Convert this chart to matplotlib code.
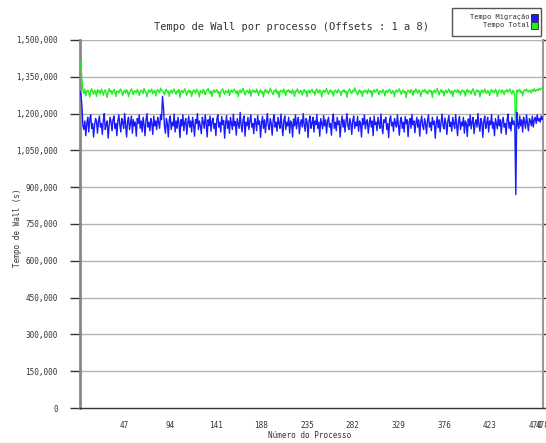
import numpy as np
import matplotlib.pyplot as plt
from matplotlib.patches import Rectangle
from matplotlib.ticker import FuncFormatter

# tempo total por processo (milhares de segundos), processos 1..478
tempo_total = [
    1410, 1395, 1340, 1295, 1282, 1300, 1272, 1290, 1296, 1285, 1268, 1292, 1301, 1288, 1279, 1295, 1290, 1270, 1298, 1287,
    1293, 1280, 1300, 1291, 1275, 1289, 1297, 1284, 1266, 1290, 1302, 1288, 1294, 1279, 1291, 1299, 1286, 1270, 1293, 1290,
    1284, 1296, 1300, 1288, 1273, 1291, 1295, 1283, 1298, 1290, 1269, 1287, 1293, 1301, 1289, 1277, 1294, 1290, 1285, 1299,
    1291, 1274, 1288, 1296, 1290, 1282, 1303, 1292, 1287, 1268, 1290, 1297, 1286, 1293, 1300, 1281, 1289, 1295, 1272, 1290,
    1298, 1290, 1285, 1304, 1295, 1292, 1288, 1276, 1294, 1299, 1287, 1292, 1270, 1289, 1296, 1283, 1291, 1300, 1288, 1279,
    1293, 1287, 1298, 1266, 1290, 1295, 1284, 1292, 1301, 1289, 1275, 1290, 1296, 1285, 1293, 1270, 1288, 1297, 1291, 1283,
    1300, 1292, 1287, 1268, 1294, 1290, 1283, 1299, 1291, 1277, 1289, 1296, 1302, 1288, 1281, 1293, 1270, 1290, 1297, 1286,
    1292, 1298, 1284, 1290, 1267, 1289, 1295, 1301, 1288, 1279, 1293, 1290, 1285, 1298, 1273, 1291, 1296, 1287, 1293, 1300,
    1289, 1282, 1294, 1269, 1290, 1297, 1285, 1292, 1303, 1291, 1276, 1288, 1295, 1290, 1283, 1299, 1271, 1290, 1296, 1288,
    1293, 1286, 1300, 1289, 1274, 1292, 1297, 1284, 1290, 1268, 1291, 1298, 1287, 1293, 1281, 1290, 1304, 1292, 1285, 1277,
    1294, 1290, 1299, 1283, 1291, 1266, 1289, 1296, 1292, 1285, 1300, 1288, 1273, 1294, 1290, 1297, 1286, 1292, 1280, 1298,
    1289, 1270, 1293, 1290, 1301, 1287, 1283, 1295, 1291, 1276, 1290, 1298, 1288, 1293, 1269, 1291, 1296, 1284, 1292, 1299,
    1287, 1290, 1275, 1294, 1300, 1289, 1283, 1297, 1291, 1268, 1290, 1295, 1286, 1293, 1302, 1288, 1279, 1292, 1297, 1285,
    1291, 1271, 1289, 1296, 1290, 1284, 1299, 1292, 1287, 1274, 1293, 1290, 1298, 1286, 1291, 1267, 1289, 1295, 1300, 1288,
    1282, 1294, 1290, 1305, 1293, 1287, 1276, 1291, 1297, 1285, 1292, 1270, 1290, 1296, 1288, 1293, 1281, 1299, 1291, 1286,
    1294, 1268, 1290, 1297, 1287, 1292, 1300, 1289, 1277, 1293, 1290, 1284, 1298, 1291, 1272, 1289, 1295, 1286, 1292, 1299,
    1288, 1281, 1294, 1290, 1269, 1291, 1296, 1287, 1293, 1301, 1290, 1278, 1292, 1297, 1285, 1290, 1266, 1289, 1295, 1292,
    1284, 1298, 1290, 1274, 1293, 1288, 1300, 1291, 1283, 1296, 1290, 1270, 1287, 1294, 1291, 1299, 1286, 1292, 1279, 1290,
    1297, 1288, 1293, 1267, 1290, 1296, 1285, 1292, 1302, 1289, 1276, 1291, 1298, 1287, 1293, 1272, 1290, 1295, 1284, 1291,
    1300, 1290, 1282, 1294, 1269, 1289, 1296, 1291, 1287, 1298, 1285, 1293, 1277, 1290, 1297, 1288, 1292, 1271, 1290, 1299,
    1286, 1293, 1290, 1280, 1295, 1301, 1288, 1274, 1292, 1297, 1289, 1293, 1268, 1290, 1296, 1285, 1291, 1300, 1287, 1282,
    1294, 1290, 1273, 1291, 1298, 1288, 1293, 1285, 1299, 1290, 1270, 1289, 1296, 1292, 1284, 1297, 1290, 1277, 1293, 1291,
    1298, 1287, 1292, 1300, 1289, 1279, 1294, 1290, 1275, 1000, 1296, 1288, 1293, 1299, 1286, 1291, 1272, 1290, 1297, 1292,
    1300, 1291, 1288, 1296, 1293, 1284, 1298, 1292, 1301, 1290, 1295, 1299, 1293, 1302, 1297, 1300, 1305, 1303,
]

# tempo de migracao por processo (milhares de segundos)
tempo_migracao = [
    1290, 1275, 1230, 1150, 1135, 1170, 1110, 1160, 1185, 1125, 1175, 1195, 1140, 1160, 1105, 1150, 1180, 1170, 1120, 1165,
    1190, 1145, 1160, 1115, 1175, 1200, 1135, 1155, 1170, 1100, 1150, 1185, 1165, 1130, 1175, 1190, 1140, 1160, 1110, 1170,
    1195, 1155, 1125, 1180, 1165, 1140, 1200, 1150, 1105, 1170, 1185, 1135, 1160, 1190, 1120, 1175, 1150, 1165, 1108, 1180,
    1160, 1195, 1140, 1170, 1125, 1185, 1155, 1110, 1175, 1200, 1145, 1165, 1130, 1180, 1160, 1115, 1190, 1150, 1170, 1135,
    1185, 1165, 1140, 1195, 1175, 1270, 1225, 1150, 1120, 1180, 1160, 1105, 1175, 1190, 1135, 1165, 1150, 1198, 1125, 1170,
    1140, 1185, 1160, 1102, 1175, 1150, 1195, 1130, 1165, 1180, 1115, 1160, 1190, 1145, 1170, 1125, 1185, 1155, 1108, 1175,
    1160, 1200, 1135, 1170, 1150, 1118, 1185, 1165, 1140, 1195, 1160, 1105, 1175, 1150, 1190, 1128, 1168, 1182, 1140, 1160,
    1110, 1178, 1195, 1145, 1165, 1125, 1188, 1155, 1172, 1100, 1160, 1192, 1140, 1170, 1120, 1185, 1160, 1135, 1198, 1150,
    1168, 1112, 1180, 1160, 1140, 1205, 1155, 1125, 1175, 1190, 1108, 1165, 1150, 1185, 1135, 1170, 1195, 1145, 1160, 1118,
    1180, 1165, 1130, 1192, 1155, 1170, 1103, 1160, 1188, 1140, 1175, 1122, 1165, 1200, 1150, 1135, 1180, 1160, 1112, 1175,
    1195, 1145, 1165, 1128, 1185, 1160, 1140, 1198, 1155, 1110, 1172, 1190, 1135, 1165, 1150, 1185, 1120, 1170, 1160, 1105,
    1178, 1150, 1195, 1138, 1165, 1185, 1118, 1160, 1175, 1145, 1200, 1155, 1128, 1180, 1165, 1102, 1170, 1190, 1140, 1160,
    1185, 1125, 1170, 1155, 1196, 1140, 1165, 1108, 1180, 1160, 1138, 1192, 1150, 1175, 1120, 1168, 1185, 1145, 1160, 1112,
    1175, 1198, 1140, 1165, 1130, 1185, 1155, 1170, 1104, 1160, 1190, 1145, 1175, 1125, 1165, 1200, 1150, 1135, 1180, 1160,
    1115, 1172, 1190, 1140, 1165, 1150, 1188, 1128, 1170, 1160, 1105, 1180, 1155, 1195, 1138, 1165, 1175, 1120, 1160, 1185,
    1145, 1170, 1110, 1190, 1155, 1165, 1130, 1185, 1160, 1140, 1198, 1150, 1118, 1175, 1165, 1185, 1135, 1160, 1102, 1175,
    1190, 1150, 1165, 1128, 1180, 1160, 1145, 1195, 1155, 1112, 1170, 1185, 1140, 1165, 1125, 1188, 1158, 1175, 1106, 1165,
    1180, 1140, 1196, 1155, 1170, 1122, 1160, 1185, 1145, 1175, 1108, 1165, 1190, 1150, 1135, 1180, 1160, 1118, 1172, 1195,
    1145, 1165, 1130, 1185, 1155, 1170, 1100, 1160, 1188, 1142, 1175, 1125, 1165, 1198, 1150, 1138, 1182, 1160, 1115, 1170,
    1192, 1148, 1165, 1128, 1185, 1158, 1140, 1196, 1155, 1110, 1172, 1188, 1135, 1165, 1150, 1185, 1120, 1170, 1160, 1107,
    1178, 1150, 1194, 1138, 1165, 1185, 1118, 1160, 1175, 1145, 1200, 1155, 1128, 1180, 1165, 1103, 1170, 1190, 1140, 1160,
    1185, 1125, 1170, 1155, 1196, 1140, 1165, 1110, 1180, 1160, 1138, 1192, 1150, 1175, 1120, 1168, 1185, 1145, 1160, 1115,
    1175, 1198, 1140, 1165, 1130, 1185, 1155, 1170, 1150, 870, 1205, 1160, 1140, 1190, 1150, 1175, 1125, 1185, 1165, 1140,
    1195, 1160, 1130, 1180, 1170, 1150, 1190, 1145, 1175, 1185, 1160, 1195, 1170, 1180, 1165, 1190, 1175, 1185,
]

x_ticks = [47, 94, 141, 188, 235, 282, 329, 376, 423, 470, 478]
y_ticks = [0, 150000, 300000, 450000, 600000, 750000, 900000, 1050000, 1200000, 1350000, 1500000]

plt.rcParams['font.family'] = 'DejaVu Sans Mono'

processos = np.arange(1, len(tempo_total) + 1)
total = np.array(tempo_total) * 1000.0
migracao = np.array(tempo_migracao) * 1000.0

fig = plt.figure(figsize=(5.46, 4.43), dpi=100)
ax = fig.add_axes([80 / 546, 35 / 443, 463 / 546, 368 / 443])

ax.plot(processos, total, color='#22ee22', lw=1.0, zorder=3)
ax.plot(processos, migracao, color='#1a1aff', lw=1.0, zorder=3)

ax.set_xlim(1, 478)
ax.set_ylim(0, 1500000)
ax.set_yticks(y_ticks)
ax.yaxis.set_major_formatter(FuncFormatter(lambda v, p: f'{int(v):,}'))
ax.set_xticks(x_ticks)
ax.set_xticklabels([str(t) for t in x_ticks])

for t in y_ticks[1:]:
    ax.axhline(t, color='#b4b4b4', lw=1.0, zorder=1)

ax.tick_params(axis='y', direction='out', length=7, width=1.0, color='#333333',
               labelsize=5.5, labelcolor='#333333', pad=9, right=True)
ax.tick_params(axis='x', length=0, labelsize=5.5, labelcolor='#333333', pad=9)

ax.spines['top'].set_visible(False)
ax.spines['left'].set_color('#888888')
ax.spines['left'].set_linewidth(2.0)
ax.spines['right'].set_color('#999999')
ax.spines['right'].set_linewidth(1.5)
ax.spines['bottom'].set_color('#333333')
ax.spines['bottom'].set_linewidth(1.0)

fig.text(291 / 546, 1 - 27 / 443, 'Tempo de Wall por processo (Offsets : 1 a 8)',
         fontsize=7.5, color='#333333', ha='center', va='center')
fig.text(310 / 546, 1 - 436 / 443, 'Número do Processo', fontsize=5.5,
         color='#333333', ha='center', va='center')
fig.text(18 / 546, 1 - 228 / 443, 'Tempo de Wall (s)', rotation=90, fontsize=5.5,
         color='#333333', ha='center', va='center')

# legenda desenhada a mao no canto superior direito
fig.patches.append(Rectangle((452 / 546, 1 - 36 / 443), 89 / 546, 28 / 443,
                             transform=fig.transFigure, facecolor='white',
                             edgecolor='#555555', lw=1.0))
for i, (nome, cor) in enumerate([('Tempo Migração', '#1a1aff'), ('Tempo Total', '#22ee22')]):
    yy = 1 - (17 + i * 8) / 443
    fig.text(530 / 546, yy, nome, fontsize=5, ha='right', va='center', color='#333333')
    fig.patches.append(Rectangle((531 / 546, yy - 3.5 / 443), 7 / 546, 7 / 443,
                                 transform=fig.transFigure, facecolor=cor,
                                 edgecolor='#222222', lw=0.6))

fig.savefig('out.png', dpi=100)
